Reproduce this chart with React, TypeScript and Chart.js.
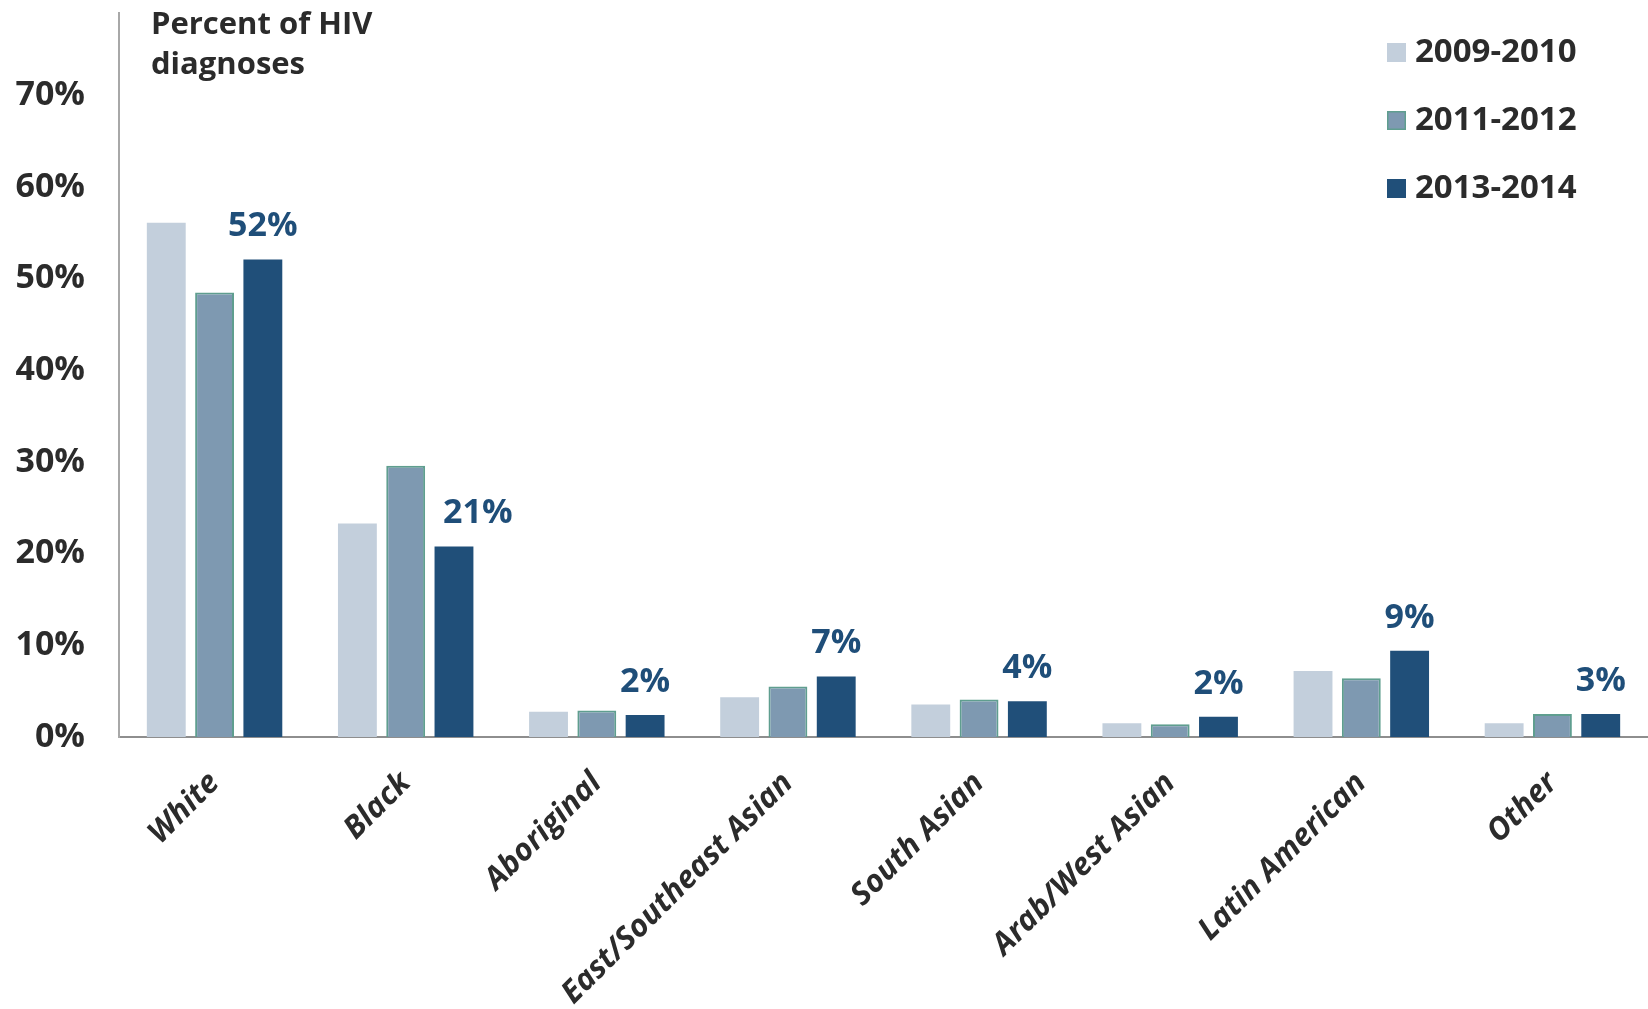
import React, { useEffect, useRef } from "react";
import { Chart, registerables } from "chart.js";

Chart.register(...registerables);

const categories = [
  "White",
  "Black",
  "Aboriginal",
  "East/Southeast Asian",
  "South Asian",
  "Arab/West Asian",
  "Latin American",
  "Other",
];
const seriesNames = ["2009-2010", "2011-2012", "2013-2014"];
const values2009 = [56.1, 23.3, 2.75, 4.35, 3.55, 1.5, 7.2, 1.5];
const values2011 = [48.5, 29.6, 2.9, 5.5, 4.1, 1.4, 6.4, 2.5];
const values2013 = [52.1, 20.8, 2.4, 6.6, 3.9, 2.2, 9.4, 2.5];
const labels2013 = ["52%", "21%", "2%", "7%", "4%", "2%", "9%", "3%"];
const yTickValues = [0, 10, 20, 30, 40, 50, 60, 70];
const titleLines = ["Percent of HIV", "diagnoses"];

const FONT = "'Open Sans', Lato, sans-serif";
const colors = ["#c3cfdc", "#7e99b1", "#204f79"];
const borders = ["#c3cfdc", "#5f9e8f", "#204f79"];

const overlayPlugin = {
  id: "overlay",
  afterDatasetsDraw(chart: any) {
    const ctx = chart.ctx;
    ctx.save();
    // data labels for last series
    const meta = chart.getDatasetMeta(2);
    const midMeta = chart.getDatasetMeta(1);
    ctx.fillStyle = "#1f4e79";
    ctx.font = `bold 34px ${FONT}`;
    ctx.textAlign = "center";
    ctx.textBaseline = "middle";
    meta.data.forEach((bar: any, i: number) => {
      const cy = bar.y - 33;
      const w = ctx.measureText(labels2013[i]).width;
      let cx = bar.x;
      const mid = midMeta.data[i];
      // keep label clear of a taller neighbouring bar
      if (mid.y < cy + 18 && cx - w / 2 < mid.x + mid.width / 2 + 16) {
        cx = mid.x + mid.width / 2 + 18 + w / 2;
      }
      ctx.fillText(labels2013[i], cx, cy);
    });
    // title
    ctx.fillStyle = "#2b2b2b";
    ctx.font = `bold 31px ${FONT}`;
    ctx.textAlign = "left";
    ctx.textBaseline = "alphabetic";
    titleLines.forEach((t, i) => ctx.fillText(t, 151, 34 + i * 40));
    // legend
    ctx.font = `bold 33px ${FONT}`;
    ctx.textBaseline = "middle";
    seriesNames.forEach((name, i) => {
      const cy = 52 + i * 68;
      ctx.fillStyle = colors[i];
      ctx.fillRect(1387, cy - 9, 19, 19);
      if (i === 1) {
        ctx.strokeStyle = borders[1];
        ctx.lineWidth = 1.5;
        ctx.strokeRect(1387.75, cy - 8.25, 17.5, 17.5);
      }
      ctx.fillStyle = "#2b2b2b";
      ctx.fillText(name, 1415, cy + 1);
    });
    ctx.restore();
  },
};

export default function App() {
  const ref = useRef<HTMLCanvasElement>(null);
  useEffect(() => {
    document.body.style.margin = "0";
    const chart = new Chart(ref.current!, {
      type: "bar",
      data: {
        labels: categories,
        datasets: [values2009, values2011, values2013].map((d, i) => ({
          label: seriesNames[i],
          data: d,
          backgroundColor: colors[i],
          borderColor: borders[i],
          borderWidth: i === 1 ? 2 : 0,
          categoryPercentage: 0.758,
          barPercentage: 0.805,
        })),
      },
      options: {
        animation: false,
        responsive: true,
        maintainAspectRatio: false,
        layout: { padding: { top: 13, right: 0, left: 0, bottom: 0 } },
        plugins: {
          legend: { display: false },
          tooltip: { enabled: false },
          title: { display: false },
        },
        scales: {
          x: {
            grid: { display: false, drawTicks: false },
            border: { display: true, color: "#8e8e8e", width: 2 },
            ticks: {
              color: "#2b2b2b",
              font: { family: FONT, size: 31, weight: "bold", style: "italic" },
              maxRotation: 45,
              minRotation: 45,
              padding: 28,
              autoSkip: false,
            },
            afterFit(scale: any) {
              scale.height = 1009 - 737;
              scale.paddingLeft = 0;
              scale.paddingRight = 0;
            },
          },
          y: {
            min: 0,
            max: 79,
            grid: { display: false, drawTicks: false },
            border: { display: true, color: "#a8a8a8", width: 2 },
            afterBuildTicks(scale: any) {
              scale.ticks = yTickValues.map((v) => ({ value: v }));
            },
            ticks: {
              color: "#2b2b2b",
              font: { family: FONT, size: 34, weight: "bold" },
              padding: 34,
              callback: (v: any) => `${v}%`,
            },
            afterFit(scale: any) {
              scale.width = 119;
              scale.paddingTop = 0;
              scale.paddingBottom = 0;
            },
          },
        },
      },
      plugins: [overlayPlugin],
    });
    return () => chart.destroy();
  }, []);
  return (
    <div style={{ position: "relative", width: 1648, height: 1009, background: "#fff" }}>
      <canvas ref={ref} />
    </div>
  );
}
